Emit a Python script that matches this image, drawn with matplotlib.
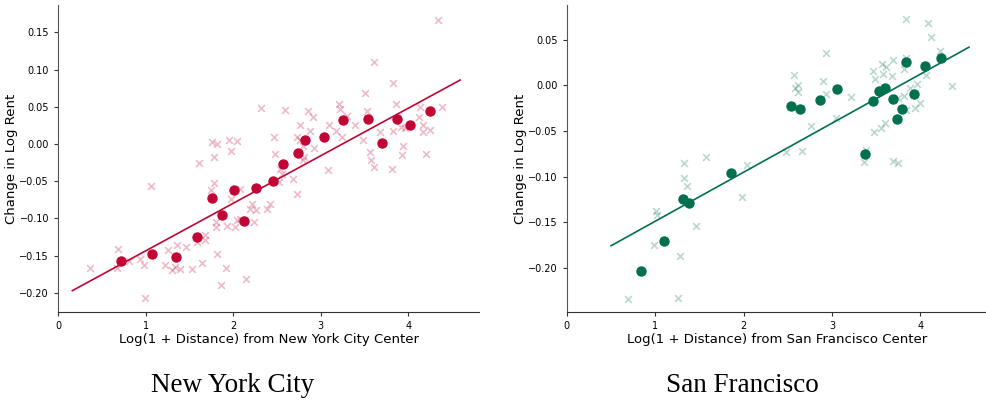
import numpy as np
import matplotlib.pyplot as plt

# Colors for the two cities
nyc_color = '#c10534'
sf_color = '#00704f'

# New York City - individual tracts (x markers)
nyc_x = [0.365, 0.688, 0.670, 0.811, 0.936, 0.982, 0.997, 1.062, 1.221, 1.259,
         1.298, 1.336, 1.393, 1.355, 1.461, 1.526, 1.583, 1.640, 1.678, 1.678,
         1.812, 1.857, 1.918, 1.613, 1.777, 1.784, 1.747, 1.804, 1.804, 1.926,
         1.761, 1.812, 1.955, 2.040, 1.975, 2.078, 2.146, 1.975, 2.021, 2.040,
         2.078, 2.211, 2.192, 2.260, 2.237, 2.389, 2.420, 2.462, 2.481, 2.534,
         2.554, 2.526, 2.683, 2.728, 2.317, 2.595, 2.850, 2.911, 2.766, 2.880,
         2.732, 2.763, 2.800, 2.919, 2.808, 2.793, 3.086, 3.090, 3.177, 3.242,
         3.296, 3.204, 3.223, 3.390, 3.478, 3.505, 3.527, 3.611, 3.562, 3.570,
         3.611, 3.679, 3.821, 3.855, 3.821, 3.813, 3.938, 3.927, 3.912, 3.961,
         4.129, 4.118, 4.163, 4.163, 4.250, 4.197, 4.380, 4.338]
nyc_y = [-0.166, -0.141, -0.167, -0.157, -0.155, -0.163, -0.207, -0.057, -0.163, -0.142,
         -0.169, -0.165, -0.168, -0.135, -0.138, -0.168, -0.131, -0.160, -0.129, -0.122,
         -0.148, -0.189, -0.166, -0.025, -0.017, -0.052, -0.062, -0.105, -0.112, -0.110,
         0.003, 0.000, 0.005, 0.004, -0.009, -0.061, -0.181, -0.074, -0.111, -0.102,
         -0.101, -0.080, -0.087, -0.089, -0.105, -0.087, -0.080, 0.009, -0.013, -0.033,
         -0.040, -0.051, -0.047, -0.067, 0.048, 0.046, 0.045, 0.036, 0.026, 0.018,
         0.009, 0.005, -0.003, -0.005, -0.017, -0.022, -0.035, 0.025, 0.018, 0.010,
         0.038, 0.054, 0.047, 0.026, 0.005, 0.068, 0.045, 0.110, -0.011, -0.022,
         -0.031, 0.016, 0.082, 0.054, 0.017, -0.033, -0.002, -0.015, 0.023, 0.021,
         0.050, 0.036, 0.026, 0.016, 0.019, -0.014, 0.050, 0.167]

# New York City - binned means (dots)
nyc_bin_x = [0.72, 1.07, 1.35, 1.59, 1.76, 1.87, 2.01, 2.12, 2.26, 2.45,
             2.57, 2.74, 2.82, 3.04, 3.25, 3.54, 3.70, 3.87, 4.02, 4.24]
nyc_bin_y = [-0.157, -0.148, -0.152, -0.125, -0.072, -0.096, -0.062, -0.104, -0.059, -0.049,
             -0.027, -0.012, 0.005, 0.009, 0.032, 0.033, 0.002, 0.033, 0.025, 0.045]

# New York City - fitted line end points
nyc_fit_x = [0.163, 4.59]
nyc_fit_y = [-0.197, 0.086]

# San Francisco - individual tracts (x markers)
sf_x = [0.689, 1.254, 0.986, 1.280, 1.009, 1.017, 1.461, 1.329, 1.325, 1.356,
        1.571, 2.034, 1.977, 2.478, 2.659, 2.572, 2.580, 2.617, 2.617, 2.768,
        2.938, 2.900, 2.930, 3.040, 3.220, 3.359, 3.382, 3.461, 3.487, 3.480,
        3.559, 3.605, 3.566, 3.578, 3.608, 3.691, 3.684, 3.695, 3.747, 3.751,
        3.819, 3.811, 3.834, 3.834, 3.879, 3.834, 3.943, 4.000, 3.962, 4.068,
        4.086, 4.116, 4.226, 4.362]
sf_y = [-0.234, -0.233, -0.175, -0.187, -0.138, -0.142, -0.154, -0.085, -0.102, -0.110,
        -0.079, -0.087, -0.122, -0.073, -0.072, 0.012, -0.003, 0.001, -0.007, -0.045,
        0.036, 0.005, -0.009, -0.036, -0.013, -0.084, -0.071, 0.016, 0.007, -0.051,
        -0.047, -0.041, 0.024, 0.013, 0.020, 0.028, 0.010, -0.083, -0.085, -0.014,
        -0.012, 0.018, 0.030, 0.073, -0.003, -0.027, -0.025, -0.019, 0.002, 0.012,
        0.069, 0.053, 0.038, -0.001]

# San Francisco - binned means (dots)
sf_bin_x = [0.836, 1.096, 1.314, 1.382, 1.860, 2.542, 2.633, 2.866, 3.062, 3.374,
            3.469, 3.537, 3.597, 3.691, 3.736, 3.797, 3.834, 3.928, 4.052, 4.237]
sf_bin_y = [-0.204, -0.171, -0.125, -0.129, -0.096, -0.022, -0.026, -0.016, -0.004, -0.075,
            -0.017, -0.006, -0.003, -0.015, -0.037, -0.026, 0.026, -0.009, 0.021, 0.030]

# San Francisco - fitted line end points
sf_fit_x = [0.501, 4.549]
sf_fit_y = [-0.176, 0.042]


def draw_panel(ax, x, y, bx, by, fx, fy, color, city, xmax, ylim):
    ax.scatter(x, y, marker='x', s=24, linewidths=1.2, color=color, alpha=0.27)
    ax.scatter(bx, by, marker='o', s=42, color=color, zorder=3)
    ax.plot(fx, fy, color=color, linewidth=1.2)

    ax.set_xlim(0, xmax)
    ax.set_ylim(*ylim)
    ax.set_xticks([0, 1, 2, 3, 4])

    # Only keep the left and bottom spines
    ax.spines['top'].set_visible(False)
    ax.spines['right'].set_visible(False)
    ax.spines['left'].set_color('#555555')
    ax.spines['bottom'].set_color('#333333')
    ax.tick_params(labelsize=7, length=3, color='#333333')

    ax.set_xlabel('Log(1 + Distance) from ' + city + ' Center', fontsize=9.5,
                  labelpad=1)
    ax.set_ylabel('Change in Log Rent', fontsize=9.5, labelpad=1)


fig = plt.figure(figsize=(9.87, 4.05), dpi=100)

ax1 = fig.add_axes([0.0588, 0.229, 0.4266, 0.759])
draw_panel(ax1, nyc_x, nyc_y, nyc_bin_x, nyc_bin_y, nyc_fit_x, nyc_fit_y,
           nyc_color, 'New York City', 4.806, (-0.226, 0.187))

ax2 = fig.add_axes([0.5742, 0.229, 0.4255, 0.759])
draw_panel(ax2, sf_x, sf_y, sf_bin_x, sf_bin_y, sf_fit_x, sf_fit_y,
           sf_color, 'San Francisco', 4.75, (-0.249, 0.0885))

# City names under each panel
fig.text(0.236, 0.047, 'New York City', ha='center', va='center',
         fontsize=19.5, family='Liberation Serif')
fig.text(0.752, 0.047, 'San Francisco', ha='center', va='center',
         fontsize=19.5, family='Liberation Serif')

fig.savefig('out.png', dpi=100)
